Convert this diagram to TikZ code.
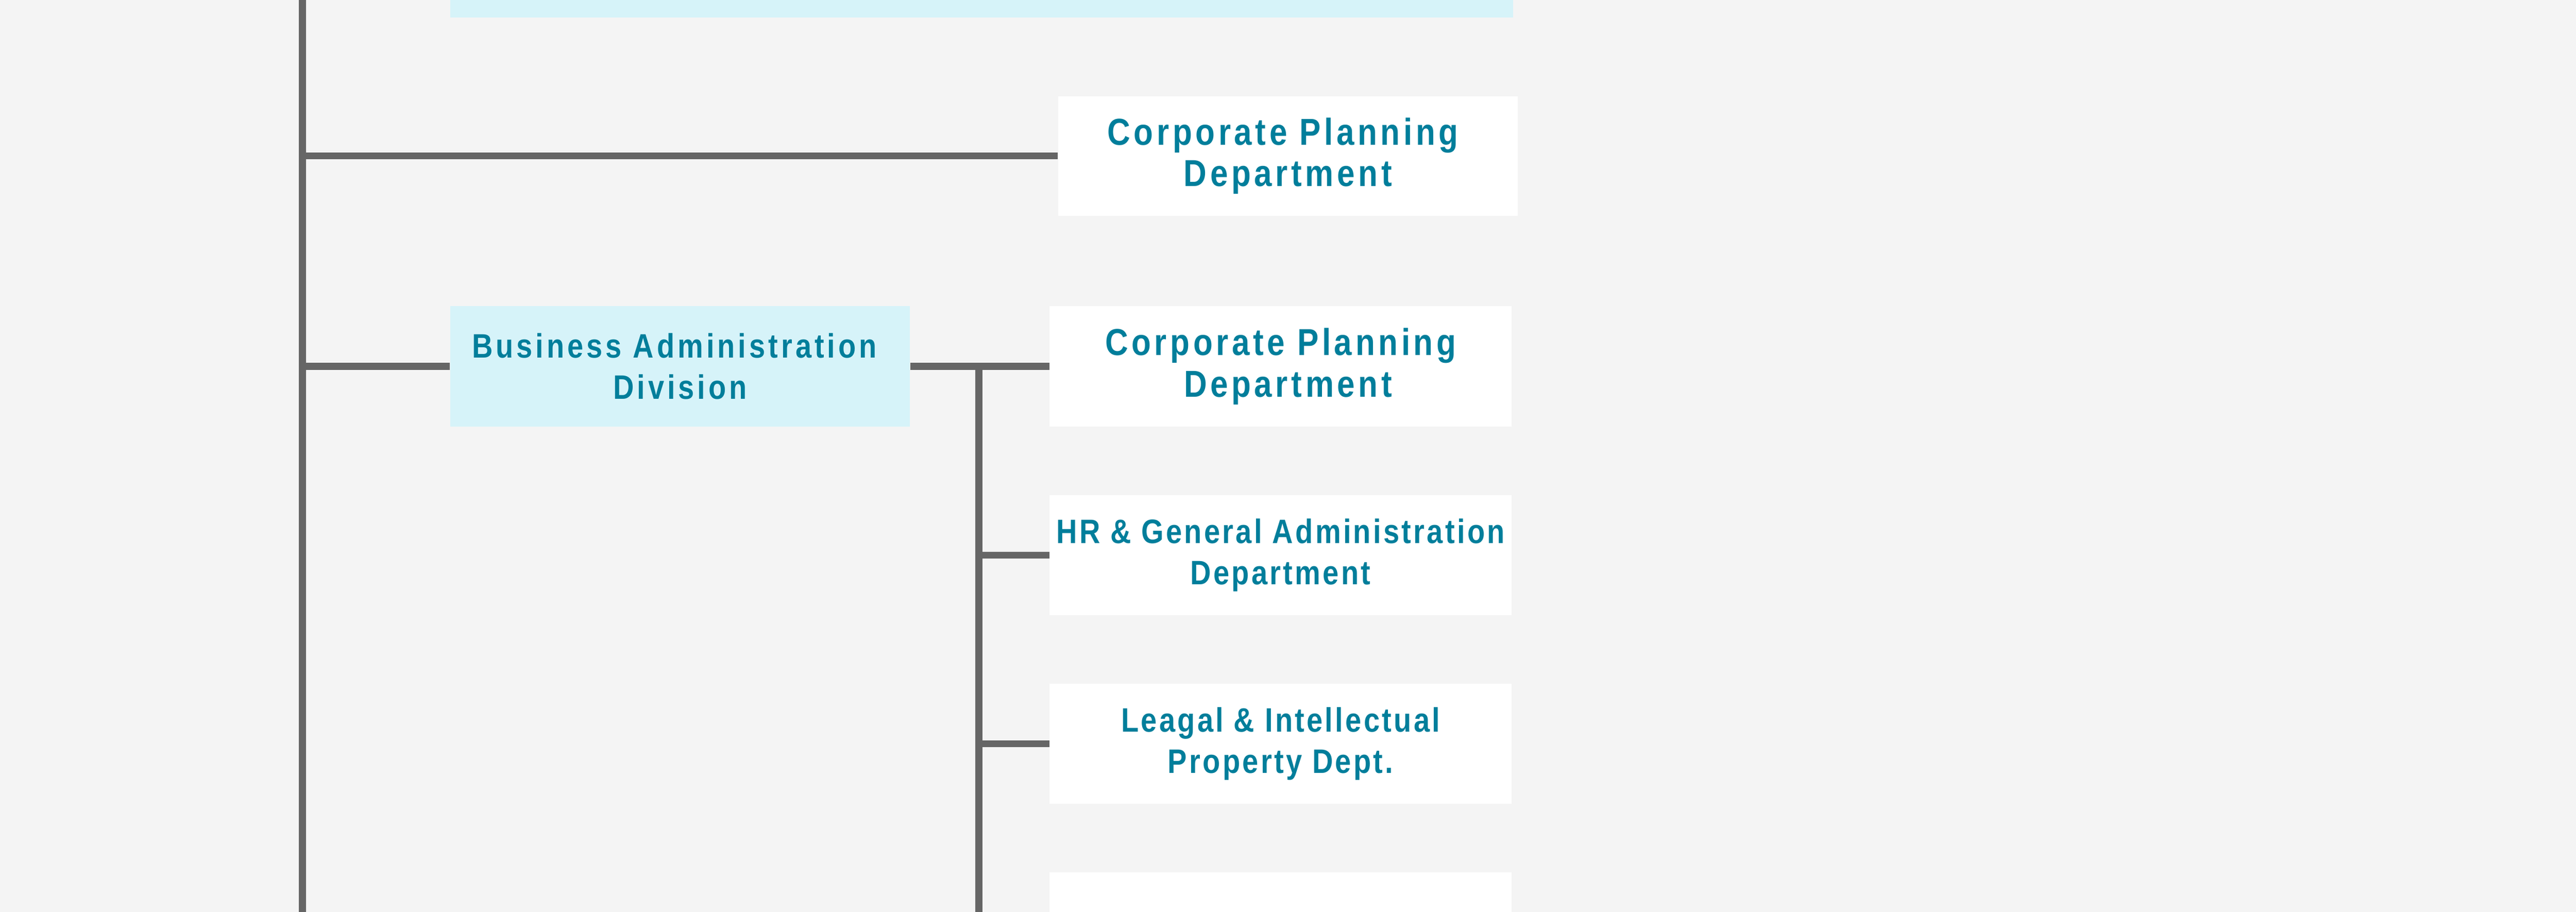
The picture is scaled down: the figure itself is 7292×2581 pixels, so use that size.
\documentclass[tikz,border=0pt]{standalone}
\usepackage{fontspec}
\setmainfont{Liberation Sans}
\newfontfamily\orgfont{Liberation Sans}[FakeStretch=0.85,LetterSpace=9.2]
\newfontfamily\orgfonttight{Liberation Sans}[FakeStretch=0.85,LetterSpace=6.6]
\usetikzlibrary{calc}
\definecolor{pagebg}{HTML}{F4F4F4}
\definecolor{divblue}{HTML}{D6F3F9}
\definecolor{orgtext}{HTML}{007E9B}
\definecolor{orgline}{HTML}{666666}
\tikzset{
    division/.style = {fill=divblue, inner sep=0pt,
        minimum height=34mm,
        minimum width=130.2mm, align=center, text=orgtext},
    dept/.style = {fill=white, inner sep=0pt,
        minimum height=34mm,
        minimum width=130.8mm, align=center, text=orgtext},
    link/.style = {draw=orgline, line width=1.95mm},
    bigname/.style = {font=\orgfont\bfseries\fontsize{30.2}{33.3}\selectfont},
    divname/.style = {font=\orgfont\bfseries\fontsize{27.3}{33.3}\selectfont},
    deptname/.style = {font=\orgfonttight\bfseries\fontsize{27.3}{33.3}\selectfont}
}

\begin{document}
\begin{tikzpicture}[x=0.1mm, y=-0.1mm, node distance=53.4mm]
    \fill [pagebg] (0,0) rectangle (7292,2581);
    \clip (0,0) rectangle (7292,2581);
    % main trunk
    \coordinate (trunktop) at (856,-60);
    \coordinate (trunkbot) at (856,2650);
    \draw [link] (trunktop) -- (trunkbot);
    \node [division, minimum width=300.9mm] (topdiv) at (2778.5,-120) {};
    \node [dept, bigname, minimum width=130.1mm, minimum height=33.9mm] (corpplan) at (3645.5,441.5) {Corporate Planning\hspace*{2.8mm}\\Department};
    \draw [link] (corpplan.west -| trunktop) -- (corpplan.west);
    % business administration division
    \node [division, divname] (busadmin) at (1925,1037) {Business Administration\hspace*{3.2mm}\\Division};
    \draw [link] (busadmin.west -| trunktop) -- (busadmin.west);
    \node [dept, bigname] (corpplantwo) at (3625,1037) {Corporate Planning\\\hspace*{4.2mm}Department};
    \draw [link] (busadmin) -- (corpplantwo);
    \node [dept, deptname, below of=corpplantwo] (hrga) {HR \& General Administration\\Department};
    \node [dept, deptname, below of=hrga] (legal) {Leagal \& Intellectual\\Property Dept.};
    \node [dept, below of=legal] (nextdept) {};
    \coordinate (split) at (2771,1037);
    \coordinate (splitbot) at (2771,2650);
    \draw [link] (split) -- (splitbot);
    \draw [link] (hrga.west -| split) -- (hrga.west);
    \draw [link] (legal.west -| split) -- (legal.west);
\end{tikzpicture}
\end{document}
